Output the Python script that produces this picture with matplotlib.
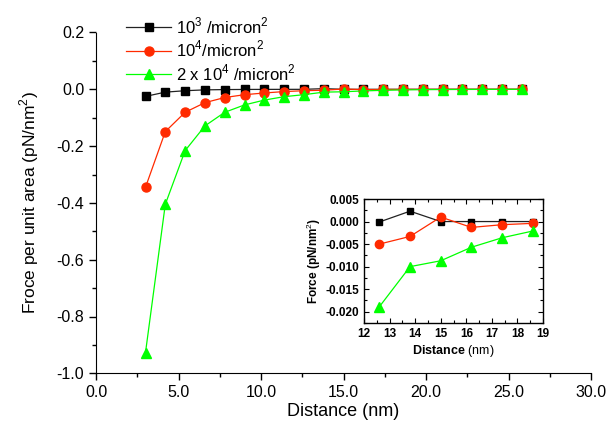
import matplotlib
matplotlib.use('Agg')
import matplotlib.pyplot as plt
from matplotlib.ticker import MultipleLocator, FormatStrFormatter

plt.rcParams['font.family'] = ['Liberation Sans', 'DejaVu Sans']
plt.rcParams['mathtext.fontset'] = 'custom'
plt.rcParams['mathtext.rm'] = 'Liberation Sans'
plt.rcParams['mathtext.bf'] = 'Liberation Sans:bold'

# distance (nm)
distance = [3.0, 4.2, 5.4, 6.6, 7.8, 9.0, 10.2, 11.4, 12.6, 13.8,
            15.0, 16.2, 17.4, 18.6, 19.8, 21.0, 22.2, 23.4, 24.6, 25.8]
# force per unit area (pN/nm^2)
force_1e3 = [-0.025, -0.010, -0.005, -0.002, -0.001, -0.0005, -0.0003, -0.0002, -0.0001, 0.0023,
             0.0, 0.0, 0.0, 0.0, 0.0, 0.0, 0.0, 0.0, 0.0, 0.0]
force_1e4 = [-0.345, -0.149, -0.081, -0.047, -0.029, -0.019, -0.013, -0.008, -0.005, -0.0033,
             0.001, -0.0013, -0.0007, -0.0004, -0.0003, -0.0002, -0.0001, -0.0001, 0.0, 0.0]
force_2e4 = [-0.927, -0.405, -0.216, -0.129, -0.081, -0.055, -0.038, -0.026, -0.0189, -0.0100,
             -0.0087, -0.0057, -0.0036, -0.0021, -0.0012, -0.0008, -0.0005, -0.0003, -0.0002, -0.0001]

labels = ['10$^3$ /micron$^2$', '10$^4$/micron$^2$', '2 x 10$^4$ /micron$^2$']

# inset shows points 12.6 .. 18.6
i0, i1 = 8, 14

RED = '#ff2a00'
GREEN = '#00ff00'

fig = plt.figure(figsize=(6.15, 4.26), dpi=100)
ax = fig.add_axes([96/615, 1 - 373.3/426, (591 - 96)/615, (373.3 - 32.5)/426])

ax.plot(distance, force_1e3, color='#222222', lw=0.9, marker='s', ms=5.5,
        mfc='black', mec='black', label=labels[0])
ax.plot(distance, force_1e4, color=RED, lw=0.9, marker='o', ms=6.5,
        mfc=RED, mec=RED, label=labels[1])
ax.plot(distance, force_2e4, color=GREEN, lw=0.9, marker='^', ms=7,
        mfc=GREEN, mec=GREEN, label=labels[2])

ax.set_xlim(0, 30)
ax.set_ylim(-1.0, 0.2)
ax.xaxis.set_major_locator(MultipleLocator(5))
ax.xaxis.set_minor_locator(MultipleLocator(2.5))
ax.yaxis.set_major_locator(MultipleLocator(0.2))
ax.yaxis.set_minor_locator(MultipleLocator(0.1))
ax.xaxis.set_major_formatter(FormatStrFormatter('%.1f'))
ax.yaxis.set_major_formatter(FormatStrFormatter('%.1f'))
ax.spines['top'].set_visible(False)
ax.spines['right'].set_visible(False)
ax.tick_params(which='major', direction='out', length=5, width=1, labelsize=11.5)
ax.tick_params(which='minor', direction='out', length=3, width=1)
ax.set_xlabel('Distance (nm)', fontsize=13, labelpad=2)
ax.set_ylabel('Froce per unit area (pN/nm$^2$)', fontsize=12.5, labelpad=11)

fig.legend(loc='upper left', bbox_to_anchor=(118/615, 1 - 7/426), frameon=False,
           fontsize=12, borderpad=0, handlelength=2.7, handletextpad=0.3,
           labelspacing=0.18)

# inset
ins = fig.add_axes([364/615, 1 - 323/426, (543 - 364)/615, (323 - 199)/426])
ins.plot(distance[i0:i1], force_1e3[i0:i1], color='#222222', lw=0.9, marker='s', ms=5,
         mfc='black', mec='black')
ins.plot(distance[i0:i1], force_1e4[i0:i1], color=RED, lw=0.9, marker='o', ms=6,
         mfc=RED, mec=RED)
ins.plot(distance[i0:i1], force_2e4[i0:i1], color=GREEN, lw=0.9, marker='^', ms=6.5,
         mfc=GREEN, mec=GREEN)
ins.set_xlim(12, 19)
ins.set_ylim(-0.0225, 0.005)
ins.xaxis.set_major_locator(MultipleLocator(1))
ins.xaxis.set_minor_locator(MultipleLocator(0.5))
ins.yaxis.set_major_locator(MultipleLocator(0.005))
ins.yaxis.set_minor_locator(MultipleLocator(0.0025))
ins.yaxis.set_major_formatter(FormatStrFormatter('%.3f'))
ins.tick_params(which='both', direction='in', top=True, right=True, width=0.8)
ins.tick_params(which='major', length=3.5, labelsize=8.5)
ins.tick_params(which='minor', length=2)
for lab in ins.get_xticklabels() + ins.get_yticklabels():
    lab.set_fontweight('bold')
for s in ins.spines.values():
    s.set_linewidth(1.0)
ins.set_xlabel(r'$\mathbf{Distance}$ (nm)', fontsize=9, labelpad=2)
ins.set_ylabel('Force (pN/nm$^2$)', fontsize=8.5, fontweight='bold', labelpad=2)

fig.savefig('out.png', dpi=100)
